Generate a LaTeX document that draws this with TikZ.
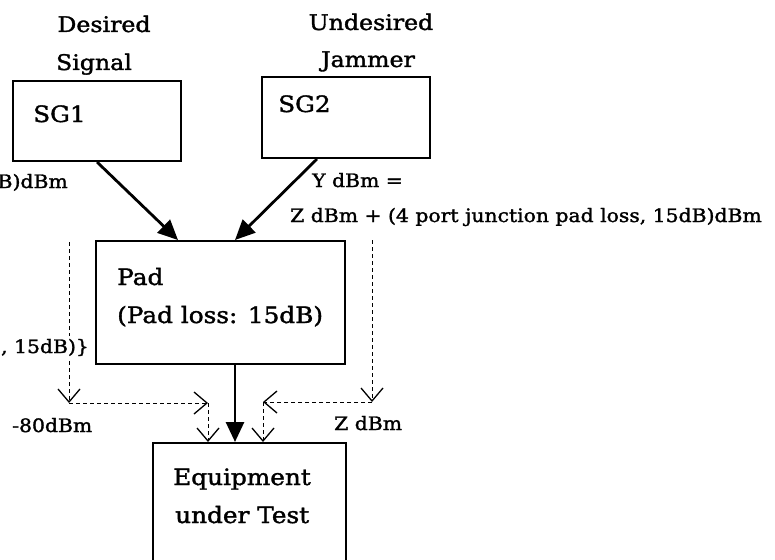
\documentclass[tikz,border=0pt]{standalone}
\usepackage{fontspec}
\setmainfont{DejaVu Serif}[FakeStretch=1.1,FakeBold=1.6]
\usetikzlibrary{arrows.meta}
\newcommand\headtxt{\fontsize{21.5}{25}\selectfont}
\newcommand\bigtxt{\fontsize{22.5}{26}\selectfont}
\newcommand\smalltxt{\fontsize{18.5}{22}\selectfont}
\tikzset{
  box/.style={draw, line width=2pt, rectangle, inner sep=0pt},
  head/.style={inner sep=0pt, font=\headtxt},
  big/.style={inner sep=0pt, font=\bigtxt},
  small/.style={inner sep=0pt, font=\smalltxt},
  sig/.style={line width=2.8pt, -{Triangle[length=20pt,width=18pt]}},
  dashline/.style={line width=1pt, dash pattern=on 4pt off 3pt},
  dashar/.style={dashline, -{Straight Barb[length=13pt,width=22pt,line width=1.3pt]}}
}
\begin{document}
\begin{tikzpicture}[x=1pt,y=-1pt]
\useasboundingbox (0,0) rectangle (775,559);
% boxes
\node[box, minimum width=168pt, minimum height=80pt] (sg1) at (97,121) {};
\node[box, minimum width=168pt, minimum height=81pt] (sg2) at (346,117.5) {};
\node[box, minimum width=249pt, minimum height=123pt] (pad) at (220.5,302.5) {};
\node[box, minimum width=193pt, minimum height=160pt] (eut) at (249.5,523) {};
% headers
\node[head, anchor=base] (h1) at (104,32) {Desired};
\node[head, anchor=base] (h2) at (94,70) {Signal};
\node[head, anchor=base] (h3) at (371,30) {Undesired};
\node[head, anchor=base] (h4) at (368,67) {Jammer};
% box labels
\node[big, anchor=base west] (t1) at (33,122) {SG1};
\node[big, anchor=base west] (t2) at (278,112) {SG2};
\node[big, anchor=base west] (t3) at (117,285) {Pad};
\node[big, anchor=base west] (t4) at (117,323) {(Pad loss: 15dB)};
\node[big, anchor=base west] (t5) at (173,485) {Equipment};
\node[big, anchor=base west] (t6) at (175,523) {under Test};
% signal arrows
\draw[sig] (sg1.south) -- ([xshift=-42.5pt]pad.north);
\draw[sig] ([xshift=-29pt]sg2.south) -- ([xshift=14.5pt]pad.north);
\draw[sig] ([xshift=14.5pt]pad.south) -- ([xshift=-14.5pt]eut.north);
% dashed paths
\coordinate (la) at (69,242);
\coordinate (lb) at (69,403);
\coordinate (lc) at (208,403);
\coordinate (ra) at (372,240);
\coordinate (rb) at (372,402);
\coordinate (rc) at (263,402);
\draw[dashar] (la) -- (lb);
\draw[dashar] (lb) -- (lc);
\draw[dashar] (lc) -- (lc |- eut.north);
\draw[dashar] (ra) -- (rb);
\draw[dashar] (rb) -- (rc);
\draw[dashar] (rc) -- (rc |- eut.north);
% labels
\node[small, anchor=base east] (l1) at (68,188) {B)dBm};
\node[small, anchor=base west] (l2) at (312,187) {Y dBm =};
\node[small, anchor=base west] (l3) at (290,222) {Z dBm + (4 port junction pad loss, 15dB)dBm};
\node[small, anchor=base west, fill=white, inner ysep=3pt] (l4) at (1,353) {, 15dB)\}};
\node[small, anchor=base west] (l5) at (12,432) {-80dBm};
\node[small, anchor=base west] (l6) at (334,430) {Z dBm};
\end{tikzpicture}
\end{document}
